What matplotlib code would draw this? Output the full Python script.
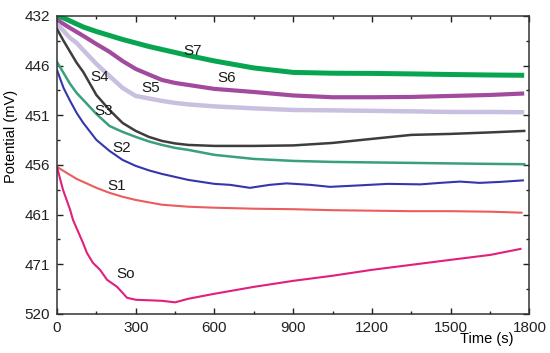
import numpy as np
import matplotlib
matplotlib.use("Agg")
import matplotlib.pyplot as plt
from matplotlib.ticker import FixedLocator

plt.rcParams['font.family'] = ['Liberation Sans', 'DejaVu Sans']

# y axis of the source is not linear: labels sit at even steps
ytick_mv = [432, 446, 451, 456, 461, 471, 520]
xtick_s = [0, 300, 600, 900, 1200, 1500, 1800]

# curves (time in s, potential in mV)
t_std = [0, 25, 50, 75, 100, 150, 200, 250, 300, 350, 400, 450, 500, 600, 750, 900, 1050, 1200, 1350, 1500, 1650, 1780]
s7 = [432.0, 432.56, 433.4, 434.25, 435.1, 436.37, 437.49, 438.62, 439.6, 440.59, 441.44, 442.28, 443.13, 444.68,
      446.23, 446.68, 446.76, 446.78, 446.83, 446.89, 446.94, 446.97]
s6 = [433.1, 434.25, 435.4, 436.5, 437.6, 439.9, 442.1, 444.7, 446.33, 446.89, 447.44, 447.74, 447.94, 448.34,
      448.65, 449.0, 449.18, 449.18, 449.15, 449.05, 448.95, 448.8]
s5 = [434.25, 436.2, 438.2, 439.6, 441.6, 445.5, 447.04, 448.24, 449.05, 449.3, 449.55, 449.75, 449.9, 450.1,
      450.3, 450.46, 450.5, 450.55, 450.6, 450.66, 450.66, 450.69]
s4 = [435.66, 439.0, 442.1, 445.2, 446.63, 448.95, 450.46, 451.77, 452.57, 453.17, 453.58, 453.83, 453.98, 454.08,
      454.08, 454.03, 453.78, 453.37, 452.97, 452.87, 452.72, 452.57]
s3 = [444.96, 446.73, 447.84, 448.75, 449.45, 450.86, 452.07, 452.67, 453.17, 453.63, 453.98, 454.28, 454.48, 454.98,
      455.39, 455.59, 455.69, 455.74, 455.79, 455.84, 455.89, 455.92]

t_s2 = [0, 25, 50, 75, 100, 150, 200, 250, 300, 350, 400, 500, 600, 660, 735, 810, 875, 965, 1040, 1155, 1260,
        1385, 1460, 1535, 1610, 1690, 1775]
s2 = [446.43, 448.24, 449.55, 450.76, 451.76, 453.47, 454.58, 455.49, 456.09, 456.54, 456.9, 457.5, 457.9, 458.0,
      458.3, 458.0, 457.85, 458.0, 458.2, 458.05, 457.9, 457.95, 457.8, 457.67, 457.8, 457.7, 457.55]

t_s1 = [0, 25, 50, 75, 100, 150, 200, 250, 300, 350, 400, 500, 600, 750, 900, 1050, 1200, 1350, 1500, 1650, 1770]
s1 = [456.19, 456.6, 457.0, 457.4, 457.7, 458.3, 458.8, 459.2, 459.52, 459.76, 460.0, 460.2, 460.3, 460.4, 460.45,
      460.55, 460.6, 460.65, 460.65, 460.7, 460.8]

t_so = [0, 11, 23, 50, 61, 99, 114, 137, 164, 191, 229, 267, 301, 355, 400, 450, 500, 599, 751, 900, 1049, 1201,
        1350, 1499, 1651, 1766]
so = [456.19, 457.3, 458.5, 460.5, 462.05, 466.67, 468.69, 470.7, 476.4, 486.3, 493.2, 504.0, 506.0, 506.5, 507.0,
      508.5, 505.0, 500.1, 493.2, 487.3, 482.3, 476.4, 471.5, 470.1, 469.1, 467.9]

names = ['S7', 'S6', 'S5', 'S4', 'S3', 'S2', 'S1', 'So']
label_t = [517, 645, 358, 164, 179, 248, 229, 263]
label_mv = [441.9, 447.24, 448.24, 447.14, 450.56, 454.28, 458.1, 480.4]

pos = np.arange(len(ytick_mv), dtype=float)


def fwd(v):
    return np.interp(v, ytick_mv, pos)


def inv(p):
    return np.interp(p, pos, ytick_mv)


fig = plt.figure(figsize=(5.5, 3.53), dpi=100)
ax = fig.add_axes([0.1036, 0.1105, 0.859, 0.8442])
ax.set_yscale('function', functions=(fwd, inv))

ax.plot(t_std, s7, color='#07a550', lw=3.6, solid_capstyle='butt')
ax.plot(t_std, s6, color='#a24a9e', lw=3.0, solid_capstyle='butt')
ax.plot(t_std, s5, color='#c9bfe0', lw=3.2, solid_capstyle='butt')
ax.plot(t_std, s4, color='#3d3d3d', lw=1.8)
ax.plot(t_std, s3, color='#3a9f7e', lw=1.8)
ax.plot(t_s2, s2, color='#3535b0', lw=1.5)
ax.plot(t_s1, s1, color='#ec5c5c', lw=1.5)
ax.plot(t_so, so, color='#e0207a', lw=1.5)

for n, tx, ty in zip(names, label_t, label_mv):
    ax.text(tx, ty, n, fontsize=11, ha='center', va='center', color='#1a1a1a')

ax.set_xlim(0, 1800)
ax.set_ylim(520, 432)
ax.xaxis.set_major_locator(FixedLocator(xtick_s))
ax.xaxis.set_minor_locator(FixedLocator(np.arange(150, 1800, 300)))
ax.yaxis.set_major_locator(FixedLocator(ytick_mv))
ax.yaxis.set_minor_locator(FixedLocator(inv(pos[:-1] + 0.5)))
ax.set_yticklabels([str(v) for v in ytick_mv])
ax.set_xticklabels([str(v) for v in xtick_s])

ax.tick_params(which='both', direction='in', top=True, right=True,
               labelsize=11, colors='#222222', width=1.0)
ax.tick_params(which='major', length=4.5, pad=5)
ax.tick_params(which='minor', length=2.5)
for s in ax.spines.values():
    s.set_linewidth(1.1)
    s.set_color('#333333')

ax.set_ylabel('Potential (mV)', fontsize=10.5)
ax.yaxis.set_label_coords(-0.083, 0.596)
ax.set_xlabel('Time (s)', fontsize=10.5)
ax.xaxis.set_label_coords(0.909, -0.06)

fig.savefig('out.png', dpi=100)
